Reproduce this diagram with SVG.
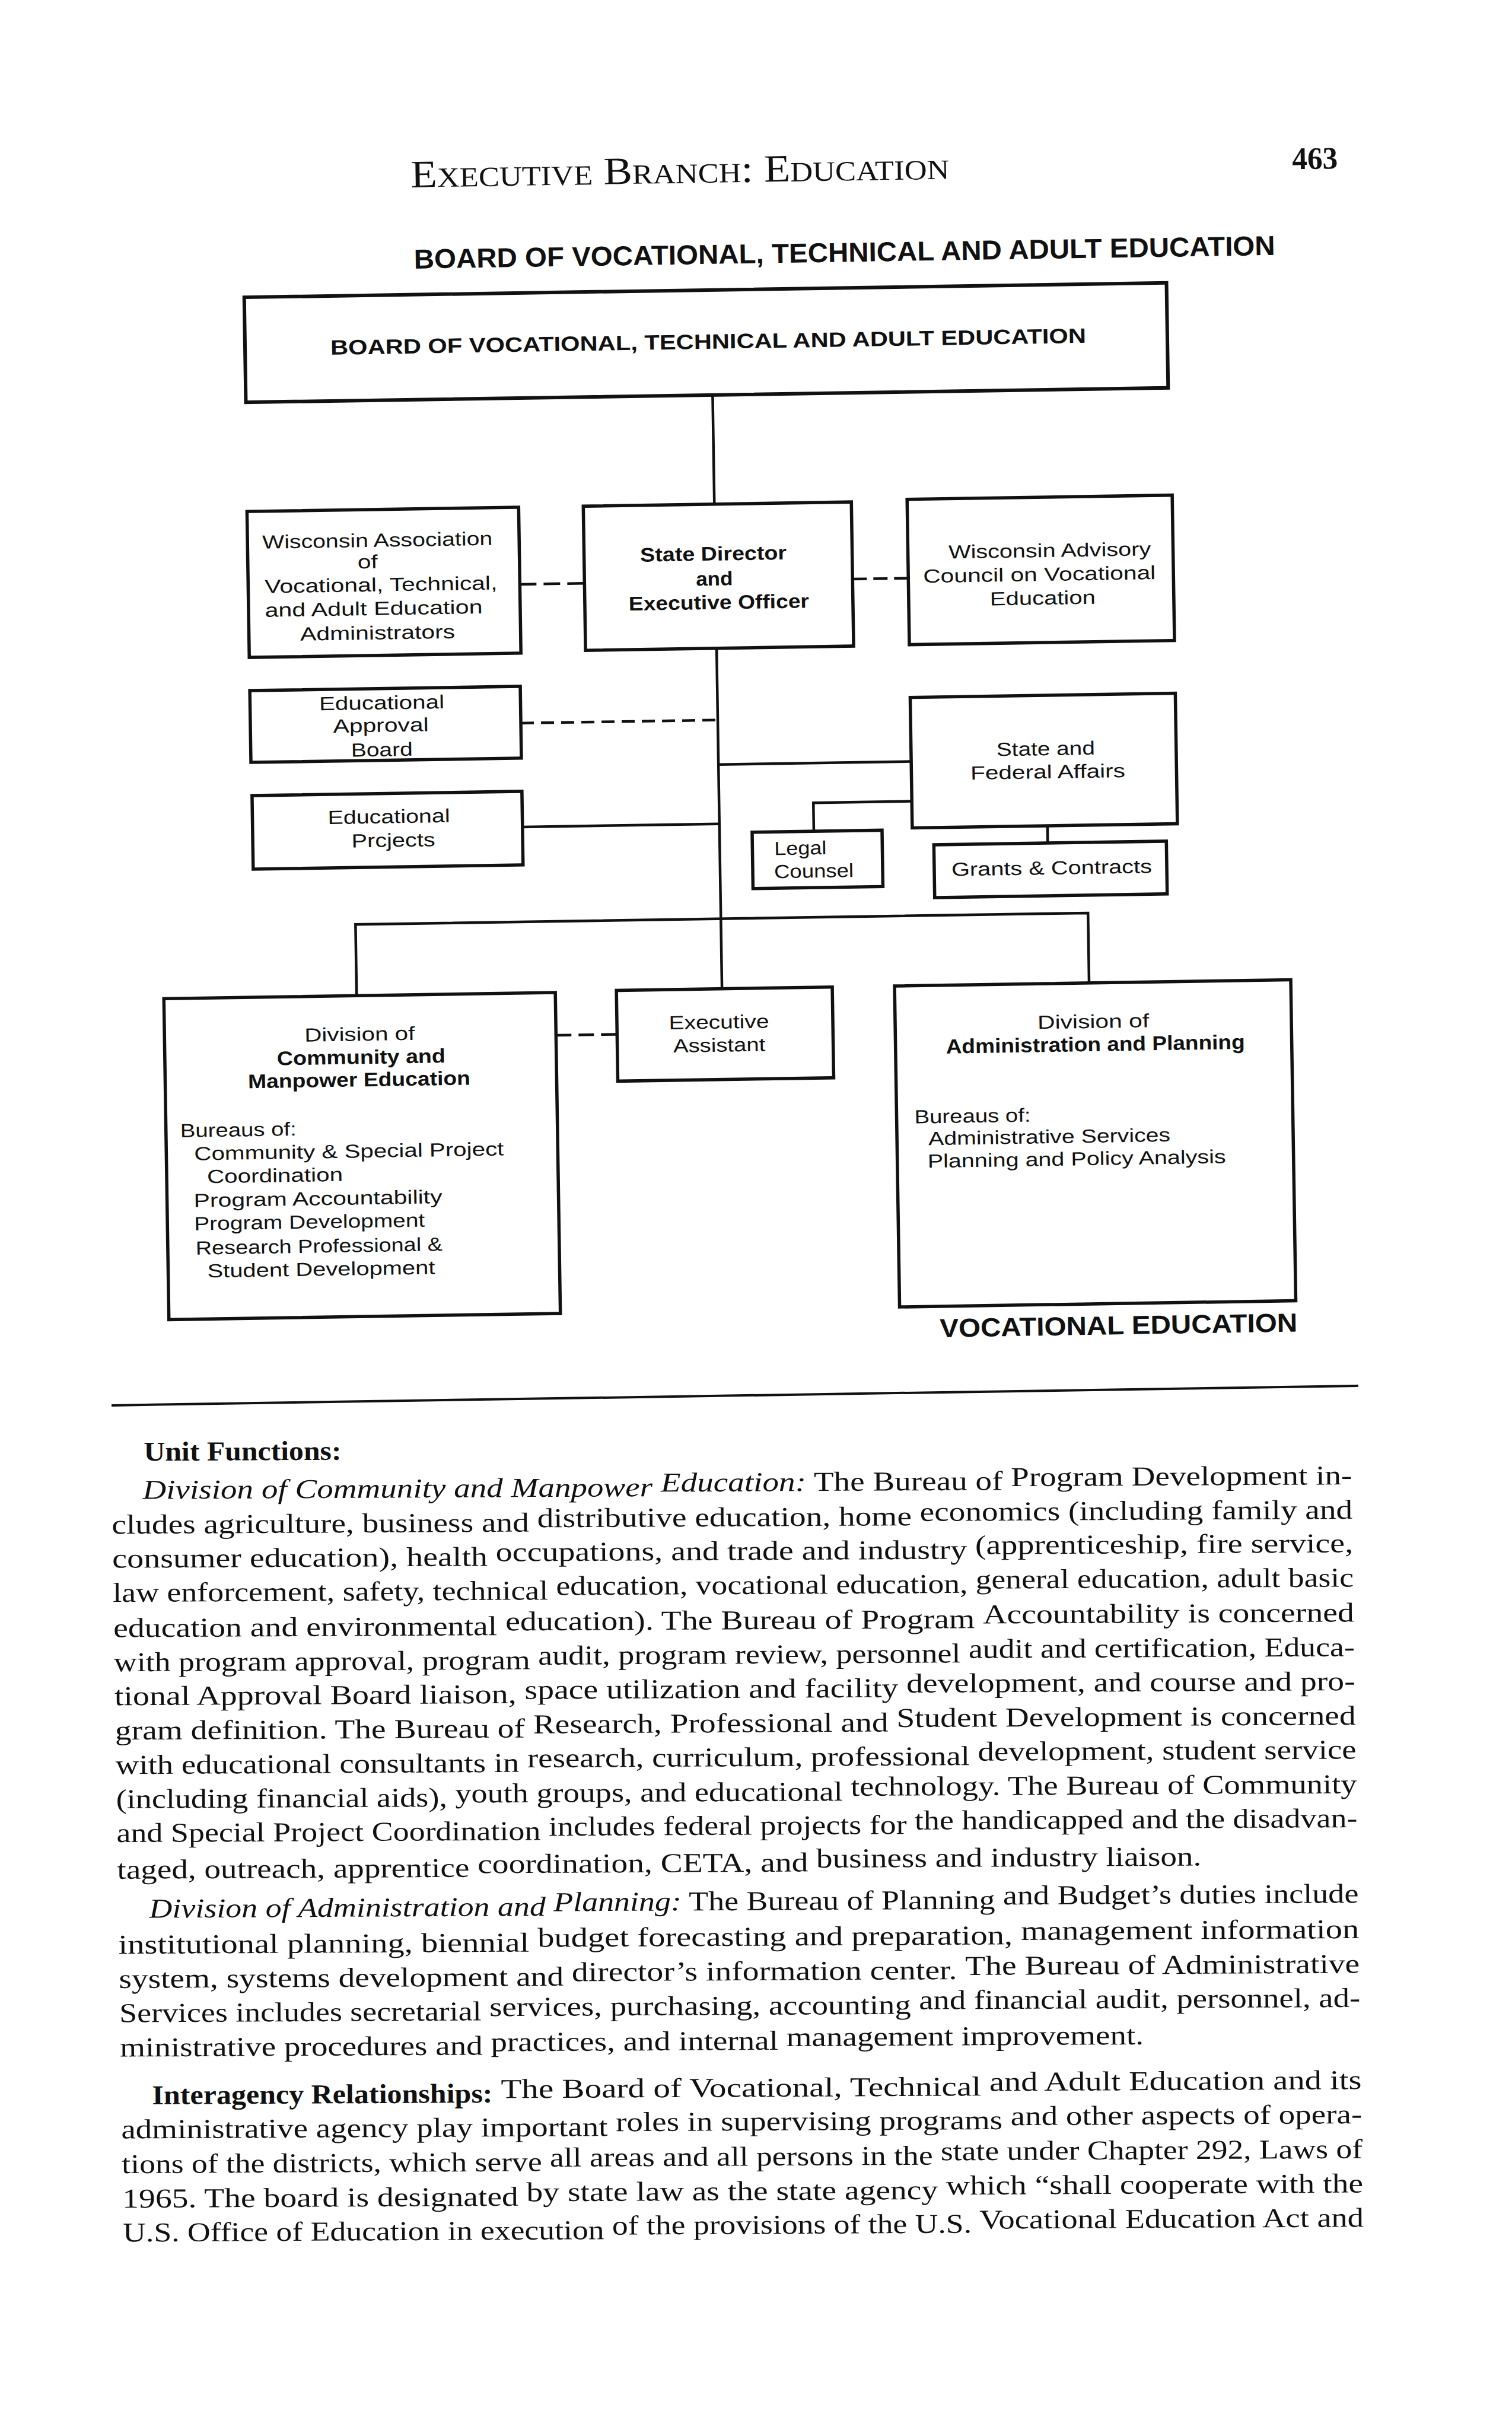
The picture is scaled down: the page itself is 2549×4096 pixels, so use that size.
<svg xmlns="http://www.w3.org/2000/svg" width="2549" height="4096" viewBox="0 0 2549 4096">
<style>
.box{fill:none;stroke:#111;stroke-width:5.5;stroke-linejoin:miter}
.ln{fill:none;stroke:#111;stroke-width:4.5}
.dash{fill:none;stroke:#111;stroke-width:4.5}
.t{font-family:"Liberation Sans",Arial,sans-serif;font-size:32px;fill:#111}
.tb{font-family:"Liberation Sans",Arial,sans-serif;font-size:33px;font-weight:bold;fill:#111}
.m{text-anchor:middle}
.body{font-family:"Liberation Serif","Times New Roman",serif;font-size:46px;fill:#111}
.hd{font-family:"Liberation Serif","Times New Roman",serif;fill:#111}
.it{font-style:italic}
</style>
<rect x="0" y="0" width="2549" height="4096" fill="#ffffff"/>
<g transform="rotate(-0.9 1190 1150)">

<g id="page-header">
<text class="hd" x="706" y="308" font-size="65" textLength="908" lengthAdjust="spacingAndGlyphs">E<tspan font-size="47">XECUTIVE</tspan> B<tspan font-size="47">RANCH</tspan>: E<tspan font-size="47">DUCATION</tspan></text>
<text class="hd" x="2192" y="301" font-size="53" font-weight="bold" textLength="77" lengthAdjust="spacingAndGlyphs">463</text>
<text class="tb" x="709" y="445" style="font-size:46px" textLength="1452" lengthAdjust="spacingAndGlyphs">BOARD OF VOCATIONAL, TECHNICAL AND ADULT EDUCATION</text>
</g>

<g id="connectors">
<line class="ln" x1="1209" y1="666" x2="1209" y2="850"/>
<line class="ln" x1="1209" y1="1093" x2="1209" y2="1667"/>
<line class="dash" x1="879" y1="980" x2="988" y2="980" stroke-dasharray="28 12"/>
<line class="dash" x1="1440" y1="980" x2="1534" y2="980" stroke-dasharray="24 11"/>
<line class="dash" x1="877" y1="1214" x2="1209" y2="1214" stroke-dasharray="22 12"/>
<line class="ln" x1="1209" y1="1289" x2="1534" y2="1289"/>
<line class="ln" x1="877" y1="1389" x2="1209" y2="1389"/>
<polyline class="ln" points="1534,1356 1368,1356 1368,1404"/>
<line class="ln" x1="1762" y1="1401" x2="1762" y2="1430"/>
<polyline class="ln" points="593,1669 593,1549 1828,1549 1828,1667"/>
<line class="dash" x1="928" y1="1741" x2="1031" y2="1741" stroke-dasharray="26 12"/>
</g>

<g id="node-board">
<rect class="box" x="422" y="489" width="1555" height="177" style="stroke-width:6"/>
<text class="tb" x="566" y="588" style="font-size:35px" textLength="1274" lengthAdjust="spacingAndGlyphs">BOARD OF VOCATIONAL, TECHNICAL AND ADULT EDUCATION</text>
</g>

<g id="node-wis-assoc">
<rect class="box" x="421" y="850" width="458" height="246"/>
<text class="t m" x="640" y="913" textLength="388" lengthAdjust="spacingAndGlyphs">Wisconsin Association</text>
<text class="t m" x="623" y="949" textLength="34" lengthAdjust="spacingAndGlyphs">of</text>
<text class="t m" x="645" y="988" textLength="392" lengthAdjust="spacingAndGlyphs">Vocational, Technical,</text>
<text class="t m" x="632" y="1028" textLength="367" lengthAdjust="spacingAndGlyphs">and Adult Education</text>
<text class="t m" x="638" y="1069" textLength="261" lengthAdjust="spacingAndGlyphs">Administrators</text>
</g>

<g id="node-state-director">
<rect class="box" x="988" y="850" width="452" height="243"/>
<text class="tb m" x="1206" y="945" textLength="247" lengthAdjust="spacingAndGlyphs">State Director</text>
<text class="tb m" x="1207" y="987" textLength="62" lengthAdjust="spacingAndGlyphs">and</text>
<text class="tb m" x="1214" y="1027" textLength="304" lengthAdjust="spacingAndGlyphs">Executive Officer</text>
</g>

<g id="node-wis-advisory">
<rect class="box" x="1534" y="847" width="447" height="245"/>
<text class="t m" x="1773" y="948" textLength="341" lengthAdjust="spacingAndGlyphs">Wisconsin Advisory</text>
<text class="t m" x="1755" y="988" textLength="392" lengthAdjust="spacingAndGlyphs">Council on Vocational</text>
<text class="t m" x="1760" y="1028" textLength="178" lengthAdjust="spacingAndGlyphs">Education</text>
</g>

<g id="node-approval-board">
<rect class="box" x="421" y="1152" width="456" height="121"/>
<text class="t m" x="643" y="1187" textLength="211" lengthAdjust="spacingAndGlyphs">Educational</text>
<text class="t m" x="641" y="1225" textLength="161" lengthAdjust="spacingAndGlyphs">Approval</text>
<text class="t m" x="642" y="1266" textLength="104" lengthAdjust="spacingAndGlyphs">Board</text>
</g>

<g id="node-projects">
<rect class="box" x="422" y="1329" width="455" height="124"/>
<text class="t m" x="652" y="1379" textLength="206" lengthAdjust="spacingAndGlyphs">Educational</text>
<text class="t m" x="659" y="1419" textLength="141" lengthAdjust="spacingAndGlyphs">Prcjects</text>
</g>

<g id="node-state-federal">
<rect class="box" x="1534" y="1181" width="447" height="220"/>
<text class="t m" x="1761" y="1282" textLength="166" lengthAdjust="spacingAndGlyphs">State and</text>
<text class="t m" x="1764" y="1321" textLength="261" lengthAdjust="spacingAndGlyphs">Federal Affairs</text>
</g>

<g id="node-legal">
<rect class="box" x="1264" y="1404" width="219" height="95"/>
<text class="t" x="1301" y="1443" textLength="88" lengthAdjust="spacingAndGlyphs">Legal</text>
<text class="t" x="1300" y="1482" textLength="134" lengthAdjust="spacingAndGlyphs">Counsel</text>
</g>

<g id="node-grants">
<rect class="box" x="1570" y="1430" width="392" height="89"/>
<text class="t m" x="1768" y="1483" textLength="338" lengthAdjust="spacingAndGlyphs">Grants &amp; Contracts</text>
</g>

<g id="node-community">
<rect class="box" x="268" y="1669" width="660" height="541"/>
<text class="t m" x="597" y="1745" textLength="186" lengthAdjust="spacingAndGlyphs">Division of</text>
<text class="tb m" x="599" y="1784" textLength="284" lengthAdjust="spacingAndGlyphs">Community and</text>
<text class="tb m" x="595" y="1822" textLength="375" lengthAdjust="spacingAndGlyphs">Manpower Education</text>
<text class="t" x="292" y="1903" textLength="196" lengthAdjust="spacingAndGlyphs">Bureaus of:</text>
<text class="t" x="315" y="1942" textLength="522" lengthAdjust="spacingAndGlyphs">Community &amp; Special Project</text>
<text class="t" x="336" y="1981" textLength="229" lengthAdjust="spacingAndGlyphs">Coordination</text>
<text class="t" x="313" y="2021" textLength="419" lengthAdjust="spacingAndGlyphs">Program Accountability</text>
<text class="t" x="313" y="2060" textLength="389" lengthAdjust="spacingAndGlyphs">Program Development</text>
<text class="t" x="315" y="2101" textLength="416" lengthAdjust="spacingAndGlyphs">Research Professional &amp;</text>
<text class="t" x="334" y="2140" textLength="384" lengthAdjust="spacingAndGlyphs">Student Development</text>
</g>

<g id="node-exec-assistant">
<rect class="box" x="1031" y="1667" width="364" height="153"/>
<text class="t m" x="1203" y="1734" textLength="169" lengthAdjust="spacingAndGlyphs">Executive</text>
<text class="t m" x="1203" y="1773" textLength="155" lengthAdjust="spacingAndGlyphs">Assistant</text>
</g>

<g id="node-admin-planning">
<rect class="box" x="1500" y="1667" width="668" height="541"/>
<text class="t m" x="1834" y="1743" textLength="188" lengthAdjust="spacingAndGlyphs">Division of</text>
<text class="tb m" x="1837" y="1782" style="font-size:34px" textLength="504" lengthAdjust="spacingAndGlyphs">Administration and Planning</text>
<text class="t" x="1530" y="1899" textLength="196" lengthAdjust="spacingAndGlyphs">Bureaus of:</text>
<text class="t" x="1553" y="1936" textLength="408" lengthAdjust="spacingAndGlyphs">Administrative Services</text>
<text class="t" x="1551" y="1974" textLength="503" lengthAdjust="spacingAndGlyphs">Planning and Policy Analysis</text>
</g>

<g id="chart-footer">
<text class="tb" x="1567" y="2260" style="font-size:44px" textLength="603" lengthAdjust="spacingAndGlyphs">VOCATIONAL EDUCATION</text>
<line x1="169" y1="2353" x2="2271" y2="2353" stroke="#111" stroke-width="4"/>
</g>

<g id="body-text" class="body">
<text x="222" y="2449" font-weight="bold" textLength="333" lengthAdjust="spacingAndGlyphs" transform="rotate(0.6 388.5 2449)">Unit Functions:</text>

<text x="219" y="2516" class="it" textLength="859.7" lengthAdjust="spacingAndGlyphs" transform="rotate(0.6 648.9 2516)">Division of Community and Manpower</text>
<text x="1092.5" y="2516" textLength="576.6" lengthAdjust="spacingAndGlyphs" transform="rotate(0.6 1380.8 2516)"><tspan class="it">Education:</tspan> The Bureau of</text>
<text x="1682.9" y="2516" textLength="575.1" lengthAdjust="spacingAndGlyphs" transform="rotate(0.6 1970.5 2516)">Program Development in-</text>

<text x="166" y="2573" textLength="703.4" lengthAdjust="spacingAndGlyphs" transform="rotate(0.6 517.7 2573)">cludes agriculture, business and</text>
<text x="883.3" y="2573" textLength="631.3" lengthAdjust="spacingAndGlyphs" transform="rotate(0.6 1199 2573)">distributive education, home</text>
<text x="1528.4" y="2573" textLength="729.6" lengthAdjust="spacingAndGlyphs" transform="rotate(0.6 1893.2 2573)">economics (including family and</text>

<text x="166" y="2630" textLength="632.6" lengthAdjust="spacingAndGlyphs" transform="rotate(0.6 482.3 2630)">consumer education), health</text>
<text x="812.6" y="2630" textLength="794.3" lengthAdjust="spacingAndGlyphs" transform="rotate(0.6 1209.8 2630)">occupations, and trade and industry</text>
<text x="1620.8" y="2630" textLength="637.2" lengthAdjust="spacingAndGlyphs" transform="rotate(0.6 1939.4 2630)">(apprenticeship, fire service,</text>

<text x="166" y="2688" textLength="734" lengthAdjust="spacingAndGlyphs" transform="rotate(0.6 533 2688)">law enforcement, safety, technical</text>
<text x="913.4" y="2688" textLength="693.9" lengthAdjust="spacingAndGlyphs" transform="rotate(0.6 1260.4 2688)">education, vocational education,</text>
<text x="1620.7" y="2688" textLength="637.3" lengthAdjust="spacingAndGlyphs" transform="rotate(0.6 1939.4 2688)">general education, adult basic</text>

<text x="166" y="2747" textLength="647.2" lengthAdjust="spacingAndGlyphs" transform="rotate(0.6 489.6 2747)">education and environmental</text>
<text x="827.2" y="2747" textLength="791.2" lengthAdjust="spacingAndGlyphs" transform="rotate(0.6 1222.8 2747)">education). The Bureau of Program</text>
<text x="1632.3" y="2747" textLength="625.7" lengthAdjust="spacingAndGlyphs" transform="rotate(0.6 1945.2 2747)">Accountability is concerned</text>

<text x="166" y="2805" textLength="701.8" lengthAdjust="spacingAndGlyphs" transform="rotate(0.6 516.9 2805)">with program approval, program</text>
<text x="881.3" y="2805" textLength="712.3" lengthAdjust="spacingAndGlyphs" transform="rotate(0.6 1237.5 2805)">audit, program review, personnel</text>
<text x="1607" y="2805" textLength="651" lengthAdjust="spacingAndGlyphs" transform="rotate(0.6 1932.5 2805)">audit and certification, Educa-</text>

<text x="166" y="2862" textLength="677.8" lengthAdjust="spacingAndGlyphs" transform="rotate(0.6 504.9 2862)">tional Approval Board liaison,</text>
<text x="857.7" y="2862" textLength="629.8" lengthAdjust="spacingAndGlyphs" transform="rotate(0.6 1172.6 2862)">space utilization and facility</text>
<text x="1501.4" y="2862" textLength="756.6" lengthAdjust="spacingAndGlyphs" transform="rotate(0.6 1879.7 2862)">development, and course and pro-</text>

<text x="166" y="2920" textLength="691.2" lengthAdjust="spacingAndGlyphs" transform="rotate(0.6 511.6 2920)">gram definition. The Bureau of</text>
<text x="871" y="2920" textLength="598.8" lengthAdjust="spacingAndGlyphs" transform="rotate(0.6 1170.4 2920)">Research, Professional and</text>
<text x="1483.7" y="2920" textLength="774.3" lengthAdjust="spacingAndGlyphs" transform="rotate(0.6 1870.9 2920)">Student Development is concerned</text>

<text x="166" y="2978" textLength="680.7" lengthAdjust="spacingAndGlyphs" transform="rotate(0.6 506.4 2978)">with educational consultants in</text>
<text x="860.4" y="2978" textLength="746" lengthAdjust="spacingAndGlyphs" transform="rotate(0.6 1233.4 2978)">research, curriculum, professional</text>
<text x="1620" y="2978" textLength="638" lengthAdjust="spacingAndGlyphs" transform="rotate(0.6 1939 2978)">development, student service</text>

<text x="166" y="3035" textLength="558.3" lengthAdjust="spacingAndGlyphs" transform="rotate(0.6 445.2 3035)">(including financial aids),</text>
<text x="737.9" y="3035" textLength="653.2" lengthAdjust="spacingAndGlyphs" transform="rotate(0.6 1064.5 3035)">youth groups, and educational</text>
<text x="1404.6" y="3035" textLength="853.4" lengthAdjust="spacingAndGlyphs" transform="rotate(0.6 1831.3 3035)">technology. The Bureau of Community</text>

<text x="166" y="3093" textLength="714.9" lengthAdjust="spacingAndGlyphs" transform="rotate(0.6 523.5 3093)">and Special Project Coordination</text>
<text x="894.4" y="3093" textLength="603.9" lengthAdjust="spacingAndGlyphs" transform="rotate(0.6 1196.4 3093)">includes federal projects for</text>
<text x="1511.7" y="3093" textLength="746.3" lengthAdjust="spacingAndGlyphs" transform="rotate(0.6 1884.9 3093)">the handicapped and the disadvan-</text>

<text x="166" y="3154" textLength="593.9" lengthAdjust="spacingAndGlyphs" transform="rotate(0.6 463 3154)">taged, outreach, apprentice</text>
<text x="773.7" y="3154" textLength="557.3" lengthAdjust="spacingAndGlyphs" transform="rotate(0.6 1052.4 3154)">coordination, CETA, and</text>
<text x="1344.7" y="3154" textLength="649.2" lengthAdjust="spacingAndGlyphs" transform="rotate(0.6 1669.3 3154)">business and industry liaison.</text>

<text x="219" y="3221" class="it" textLength="668.3" lengthAdjust="spacingAndGlyphs" transform="rotate(0.6 553.2 3221)">Division of Administration and</text>
<text x="900.8" y="3221" textLength="744.4" lengthAdjust="spacingAndGlyphs" transform="rotate(0.6 1273 3221)"><tspan class="it">Planning:</tspan> The Bureau of Planning</text>
<text x="1658.6" y="3221" textLength="599.4" lengthAdjust="spacingAndGlyphs" transform="rotate(0.6 1958.3 3221)">and Budget’s duties include</text>

<text x="166" y="3281" textLength="692.7" lengthAdjust="spacingAndGlyphs" transform="rotate(0.6 512.4 3281)">institutional planning, biennial</text>
<text x="872.8" y="3281" textLength="800.9" lengthAdjust="spacingAndGlyphs" transform="rotate(0.6 1273.3 3281)">budget forecasting and preparation,</text>
<text x="1687.9" y="3281" textLength="570.1" lengthAdjust="spacingAndGlyphs" transform="rotate(0.6 1973 3281)">management information</text>

<text x="166" y="3339" textLength="749.6" lengthAdjust="spacingAndGlyphs" transform="rotate(0.6 540.8 3339)">system, systems development and</text>
<text x="929.5" y="3339" textLength="649.6" lengthAdjust="spacingAndGlyphs" transform="rotate(0.6 1254.3 3339)">director’s information center.</text>
<text x="1592.9" y="3339" textLength="665.1" lengthAdjust="spacingAndGlyphs" transform="rotate(0.6 1925.5 3339)">The Bureau of Administrative</text>

<text x="166" y="3396" textLength="610.3" lengthAdjust="spacingAndGlyphs" transform="rotate(0.6 471.2 3396)">Services includes secretarial</text>
<text x="790" y="3396" textLength="710.5" lengthAdjust="spacingAndGlyphs" transform="rotate(0.6 1145.3 3396)">services, purchasing, accounting</text>
<text x="1514.1" y="3396" textLength="743.9" lengthAdjust="spacingAndGlyphs" transform="rotate(0.6 1886.1 3396)">and financial audit, personnel, ad-</text>

<text x="166" y="3454" textLength="611.5" lengthAdjust="spacingAndGlyphs" transform="rotate(0.6 471.8 3454)">ministrative procedures and</text>
<text x="791.3" y="3454" textLength="484.6" lengthAdjust="spacingAndGlyphs" transform="rotate(0.6 1033.6 3454)">practices, and internal</text>
<text x="1289.6" y="3454" textLength="602.4" lengthAdjust="spacingAndGlyphs" transform="rotate(0.6 1590.8 3454)">management improvement.</text>

<text x="219" y="3535" font-weight="bold" textLength="574" lengthAdjust="spacingAndGlyphs" transform="rotate(0.6 506 3535)">Interagency Relationships:</text>
<text x="807" y="3535" textLength="809.7" lengthAdjust="spacingAndGlyphs" transform="rotate(0.6 1211.9 3535)">The Board of Vocational, Technical</text>
<text x="1630.7" y="3535" textLength="627.3" lengthAdjust="spacingAndGlyphs" transform="rotate(0.6 1944.4 3535)">and Adult Education and its</text>

<text x="166" y="3593" textLength="820.1" lengthAdjust="spacingAndGlyphs" transform="rotate(0.6 576.1 3593)">administrative agency play important</text>
<text x="999.8" y="3593" textLength="652.1" lengthAdjust="spacingAndGlyphs" transform="rotate(0.6 1325.9 3593)">roles in supervising programs</text>
<text x="1665.6" y="3593" textLength="592.4" lengthAdjust="spacingAndGlyphs" transform="rotate(0.6 1961.8 3593)">and other aspects of opera-</text>

<text x="166" y="3651" textLength="708.3" lengthAdjust="spacingAndGlyphs" transform="rotate(0.6 520.2 3651)">tions of the districts, which serve</text>
<text x="887.7" y="3651" textLength="645.7" lengthAdjust="spacingAndGlyphs" transform="rotate(0.6 1210.6 3651)">all areas and all persons in the</text>
<text x="1546.8" y="3651" textLength="711.2" lengthAdjust="spacingAndGlyphs" transform="rotate(0.6 1902.4 3651)">state under Chapter 292, Laws of</text>

<text x="166" y="3709" textLength="667.6" lengthAdjust="spacingAndGlyphs" transform="rotate(0.6 499.8 3709)">1965. The board is designated</text>
<text x="847.4" y="3709" textLength="693.7" lengthAdjust="spacingAndGlyphs" transform="rotate(0.6 1194.3 3709)">by state law as the state agency</text>
<text x="1555" y="3709" textLength="703" lengthAdjust="spacingAndGlyphs" transform="rotate(0.6 1906.5 3709)">which “shall cooperate with the</text>

<text x="166" y="3767" textLength="811.5" lengthAdjust="spacingAndGlyphs" transform="rotate(0.6 571.8 3767)">U.S. Office of Education in execution</text>
<text x="990.9" y="3767" textLength="606.1" lengthAdjust="spacingAndGlyphs" transform="rotate(0.6 1294 3767)">of the provisions of the U.S.</text>
<text x="1610.3" y="3767" textLength="647.7" lengthAdjust="spacingAndGlyphs" transform="rotate(0.6 1934.2 3767)">Vocational Education Act and</text>
</g>

</g>
</svg>
